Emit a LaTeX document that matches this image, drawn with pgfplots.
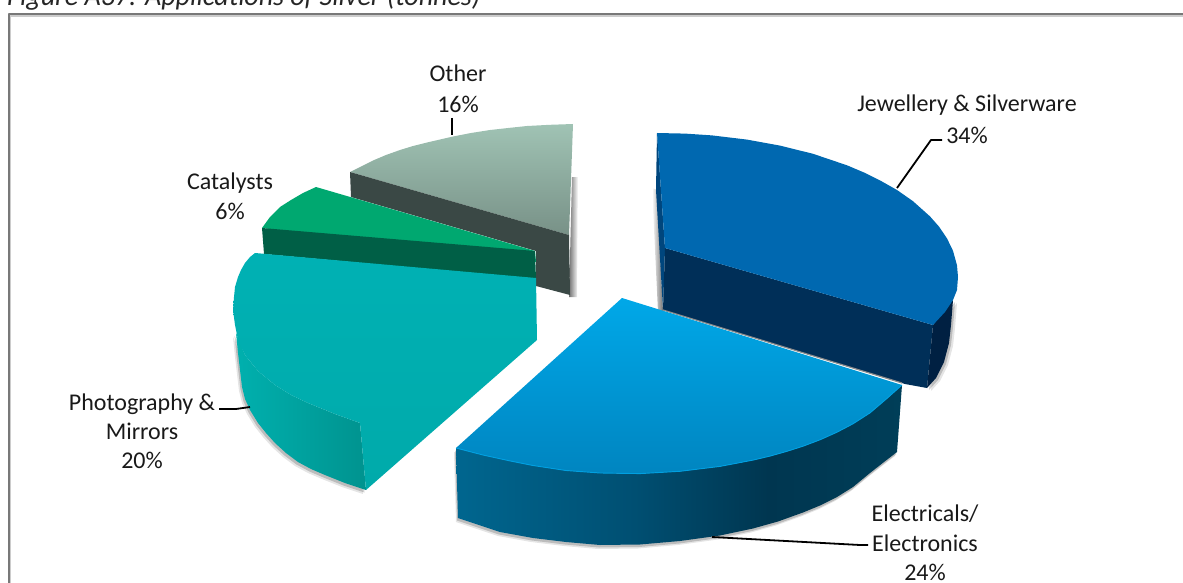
\documentclass[border=0pt]{standalone}
\usepackage{pgfplots}
\pgfplotsset{compat=1.18}
\usepackage{pgfplotstable}
\usepackage{fontspec}
\setmainfont{Carlito}
\definecolor{elA}{HTML}{00668F}
\definecolor{elB}{HTML}{004F72}
\definecolor{elC}{HTML}{003650}
\definecolor{elD}{HTML}{003E58}
\pgfdeclarehorizontalshading{elecside}{100bp}{color(0bp)=(elA);color(25bp)=(elA);color(45bp)=(elB);color(60bp)=(elC);color(75bp)=(elD);color(100bp)=(elD)}
\pgfplotstableread{
x y
350 172
361 166.5
373 160.5
386 155
400 150
413 146
427 142.5
440 139.5
453 136.5
471 133
490 130
508 128
527 126
550 124.8
573 124
569 235
}\otherTop
\pgfplotstableread{
x y
350 172
569 235
570 295
536 286
536 251
351 197
}\otherSide
\pgfplotstableread{
x y
572 177
578 177
577 297
569 297
}\otherShadow
\pgfplotstableread{
x y
316 187
535 251
536 262
262 228
270 217
280 207
291 200
303 193
}\catTop
\pgfplotstableread{
x y
262 228
535 251
536 279
264 254
}\catSide
\pgfplotstableread{
x y
255 253
536 278
537 340
366 490
360 423
335 414
308 403
291 395
275 385
258 371
245 355
238 340
235 325
233 310
234 297
235 287
238 277
241 270
245 263
250 257
}\tealTop
\pgfplotstableread{
x y
236 333
238 353
240 370
242 387
245 399
250 410
258 423
266 433
275 443
286 453
298 462
311 469
325 475
345 483
366 490
360 423
335 414
308 403
291 395
275 385
258 371
245 355
}\tealSide
\pgfplotstableread{
x y
622 298
902 385
887 398.4
870 412.9
853 423.8
837 432.2
820 439.8
803 446.2
787 451.3
770 456.1
753 460.1
720 466.4
680 471.3
640 473.6
600 473
566 470.5
533 465.5
508 460.5
483 455
456 448
}\elecTop
\pgfplotstableread{
x y
456 448
458 518
500 532
533 538
566 542
600 545
640 544.5
680 541
720 535.5
753 528.5
778 521.5
803 512.5
820 505.5
837 497
853 487
870 473
884 462
897 452
902 385
887 398.4
870 412.9
853 423.8
837 432.2
820 439.8
803 446.2
787 451.3
770 456.1
753 460.1
720 466.4
680 471.3
640 473.6
600 473
566 470.5
533 465.5
508 460.5
483 455
}\elecSide
\pgfplotstableread{
x y
902 385
887 398.4
870 412.9
853 423.8
837 432.2
820 439.8
803 446.2
787 451.3
770 456.1
753 460.1
720 466.4
680 471.3
640 473.6
600 473
566 470.5
533 465.5
508 460.5
483 455
456 448
}\elecRim
\pgfplotstableread{
x y
657 133
685 133.6
712 135.4
747 139.6
780 145.6
813 153.8
847 165.3
864 172.5
880 180.4
897 190
913 201.2
930 216.4
939 226.6
947 238.4
953 250.8
957 265.3
958 277
957 290
953 300
945 312
933 325
665 248
}\jewTop
\pgfplotstableread{
x y
665 248
933 325
927 388
905 384
663 310
}\jewSide
\pgfplotstableread{
x y
933 325
953 300
951 325
949 343
944 362
936 378
927 388
}\jewOuter
\pgfplotstableread{
x y
657 133
665 248
663 310
656 190
}\jewSliver
\pgfplotstableread{
x y
657 190
652 188
658 312
663 312
}\jewShadow
\begin{document}
\begin{tikzpicture}[x=1pt,y=1pt]
\useasboundingbox (0,0) rectangle (1183,583);
\begin{axis}[at={(0,0)},anchor=south west,scale only axis,width=1183pt,height=583pt,
  xmin=0,xmax=1183,ymin=0,ymax=583,y dir=reverse,axis lines=none,clip=false,
  every axis plot/.append style={line join=round}]
% frame
\addplot[draw=black!20,line width=1.2pt] coordinates {(10.8,583) (10.8,16) (1183,16)};
\addplot[draw=black!53,line width=2.2pt] coordinates {(9,583) (9,14) (1183,14)};
% soft shadows
\addplot[draw=none,fill=black,opacity=.10,xshift=-3pt,yshift=-4pt] table {\tealSide};
\addplot[draw=none,fill=black,opacity=.18,xshift=-1.5pt,yshift=-2.5pt] table {\tealSide};
\addplot[draw=none,fill=black,opacity=.10,xshift=-2pt,yshift=-4pt] table {\elecSide};
\addplot[draw=none,fill=black,opacity=.18,xshift=-1pt,yshift=-2.5pt] table {\elecSide};
\addplot[draw=none,fill=black,opacity=.10,xshift=4pt,yshift=-3pt] table {\jewOuter};
\addplot[draw=none,fill=black,opacity=.18,xshift=2pt,yshift=-2pt] table {\jewOuter};
\addplot[draw=none,left color=black!55,right color=white] table {\otherShadow};
\addplot[draw=none,left color=white,right color=black!55] table {\jewShadow};
% Other
\addplot[draw=none,top color={rgb,255:red,160;green,195;blue,180},bottom color={rgb,255:red,120;green,145;blue,135}] table {\otherTop};
\addplot[draw=none,fill={rgb,255:red,58;green,72;blue,69}] table {\otherSide};
% Catalysts
\addplot[draw=none,fill={rgb,255:red,0;green,168;blue,112}] table {\catTop};
\addplot[draw=none,fill={rgb,255:red,0;green,95;blue,70}] table {\catSide};
% Photography
\addplot[draw=none,left color={rgb,255:red,0;green,176;blue,174},right color={rgb,255:red,0;green,147;blue,143}] table {\tealSide};
\addplot[draw=none,top color={rgb,255:red,0;green,177;blue,180},bottom color={rgb,255:red,0;green,170;blue,170}] table {\tealTop};
% Jewellery
\addplot[draw=none,fill={rgb,255:red,0;green,70;blue,125}] table {\jewSliver};
\addplot[draw=none,fill={rgb,255:red,0;green,47;blue,88}] table {\jewSide};
\addplot[draw=none,fill={rgb,255:red,0;green,32;blue,66}] table {\jewOuter};
\addplot[draw=none,fill={rgb,255:red,0;green,104;blue,176}] table {\jewTop};
\addplot[draw=black!45,line width=1.2pt] coordinates {(663,310) (902,383)};
% Electrical
\addplot[draw=none,shading=elecside] table {\elecSide};
\addplot[draw=none,top color={rgb,255:red,0;green,168;blue,232},bottom color={rgb,255:red,0;green,133;blue,192}] table {\elecTop};
\addplot[draw={rgb,255:red,0;green,160;blue,225},line width=.9pt] table {\elecRim};
% leaders
\addplot[black,line width=1.8pt] coordinates {(897,188) (931,140) (942,140)};
\addplot[black,line width=1.8pt] coordinates {(712,537) (860,545) (868,545)};
\addplot[black,line width=1.8pt] coordinates {(452,118) (452,135)};
\addplot[black,line width=1.8pt] coordinates {(219,409) (236,409) (250,407)};
% text
\def\lab#1#2#3{\node[anchor=base,inner sep=0pt,font=\fontsize{24}{28}\selectfont,text=black!90] at (axis cs:#1,#2) {#3};}
\lab{458}{82}{Other}
\lab{458}{113}{16\%}
\lab{230}{189}{Catalysts}
\lab{230}{219}{6\%}
\lab{967}{112}{Jewellery \& Silverware}
\lab{967}{143}{34\%}
\lab{925}{521}{Electricals/}
\lab{925}{551}{Electronics}
\lab{925}{580}{24\%}
\lab{142}{410}{Photography \&}
\lab{142}{439}{Mirrors}
\lab{142}{468}{20\%}
\node[anchor=base west,inner sep=0pt,font=\fontsize{28}{32}\selectfont\itshape,text=black!85] at (axis cs:7,5.5) {Figure A37: Applications of Silver (tonnes)};
\end{axis}
\end{tikzpicture}
\end{document}
